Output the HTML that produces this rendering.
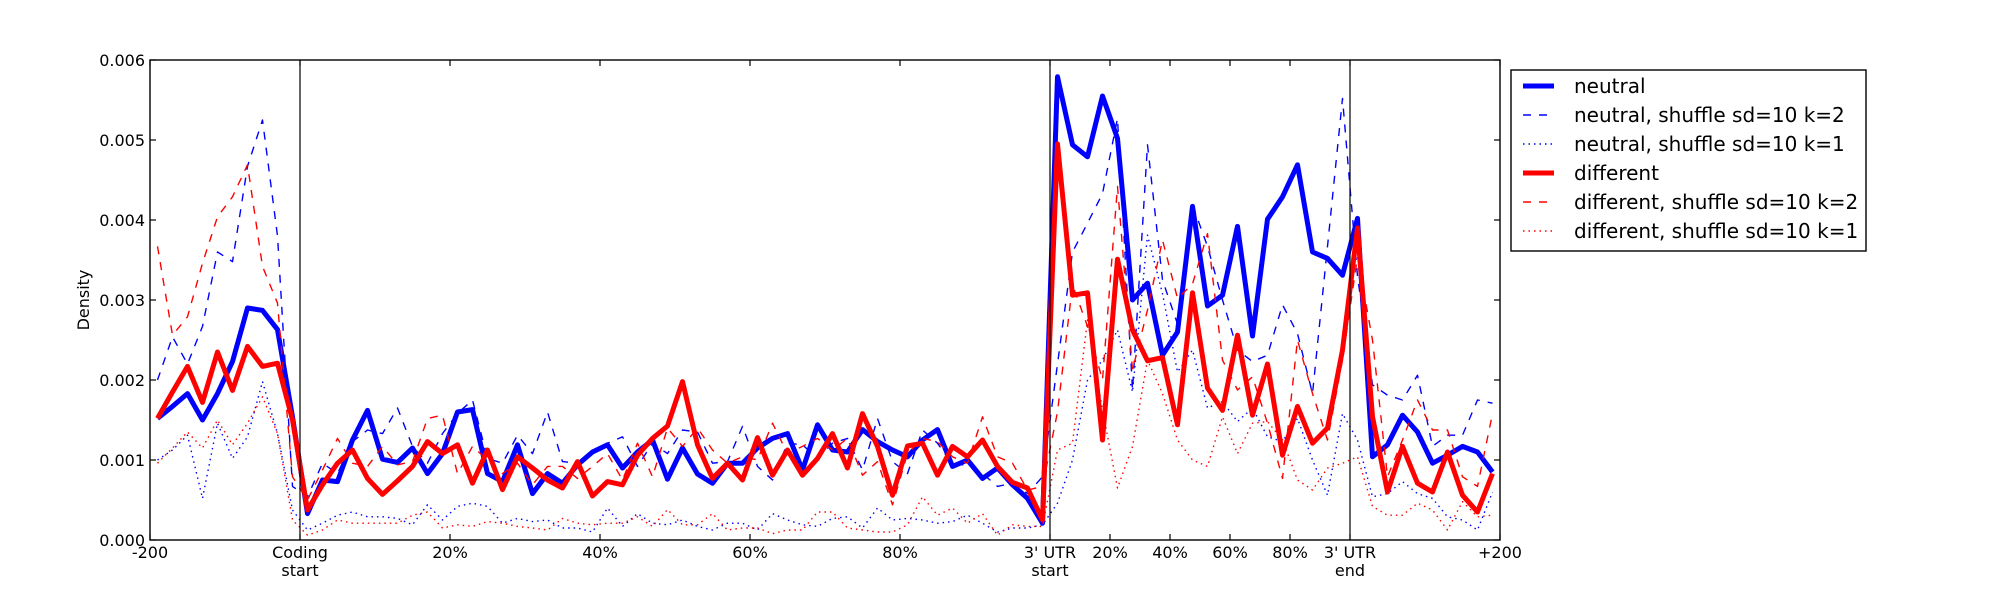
<!DOCTYPE html>
<html><head><meta charset="utf-8"><style>
html,body{margin:0;padding:0;background:#fff;}
svg{display:block;font-family:"DejaVu Sans","Liberation Sans",sans-serif;}
</style></head><body>
<svg id="s" width="2000" height="600" viewBox="0 0 2000 600" xmlns="http://www.w3.org/2000/svg">
<rect x="0" y="0" width="2000" height="600" fill="#fff"/>
<defs><clipPath id="c"><rect x="150" y="60" width="1350" height="480"/></clipPath></defs>
<g id="lines" clip-path="url(#c)"></g>
<line x1="300" y1="60" x2="300" y2="540" stroke="#000" stroke-width="1.2"/>
<line x1="1050" y1="60" x2="1050" y2="540" stroke="#000" stroke-width="1.2"/>
<line x1="1350" y1="60" x2="1350" y2="540" stroke="#000" stroke-width="1.2"/>
<g id="ticks" stroke="#000" stroke-width="1.2"></g>
<rect x="150" y="60" width="1350" height="480" fill="none" stroke="#000" stroke-width="1.4"/>
<g font-size="16" fill="#000" text-anchor="end">
<text x="145" y="66">0.006</text>
<text x="145" y="146">0.005</text>
<text x="145" y="226">0.004</text>
<text x="145" y="306">0.003</text>
<text x="145" y="386">0.002</text>
<text x="145" y="466">0.001</text>
<text x="145" y="546">0.000</text>
</g>
<text x="89" y="300" font-size="16" text-anchor="middle" transform="rotate(-90 89 300)">Density</text>
<g font-size="16" fill="#000" text-anchor="middle">
<text x="150" y="558">-200</text>
<text x="300" y="558">Coding</text><text x="300" y="576">start</text>
<text x="450" y="558">20%</text>
<text x="600" y="558">40%</text>
<text x="750" y="558">60%</text>
<text x="900" y="558">80%</text>
<text x="1050" y="558">3' UTR</text><text x="1050" y="576">start</text>
<text x="1110" y="558">20%</text>
<text x="1170" y="558">40%</text>
<text x="1230" y="558">60%</text>
<text x="1290" y="558">80%</text>
<text x="1350" y="558">3' UTR</text><text x="1350" y="576">end</text>
<text x="1500" y="558">+200</text>
</g>
<rect x="1511" y="70" width="355" height="181" fill="#fff" stroke="#000" stroke-width="1.4"/>
<g stroke-width="1.4" fill="none">
<line x1="1523" y1="86" x2="1554" y2="86" stroke="#0000ff" stroke-width="5"/>
<line x1="1523" y1="115" x2="1554" y2="115" stroke="#0000ff" stroke-dasharray="8,8"/>
<line x1="1523" y1="144" x2="1554" y2="144" stroke="#0000ff" stroke-dasharray="1.5,4"/>
<line x1="1523" y1="173" x2="1554" y2="173" stroke="#ff0000" stroke-width="5"/>
<line x1="1523" y1="202" x2="1554" y2="202" stroke="#ff0000" stroke-dasharray="8,8"/>
<line x1="1523" y1="231" x2="1554" y2="231" stroke="#ff0000" stroke-dasharray="1.5,4"/>
</g>
<g font-size="20" fill="#000">
<text x="1574" y="93">neutral</text>
<text x="1574" y="122">neutral, shuffle sd=10 k=2</text>
<text x="1574" y="151">neutral, shuffle sd=10 k=1</text>
<text x="1574" y="180">different</text>
<text x="1574" y="209">different, shuffle sd=10 k=2</text>
<text x="1574" y="238">different, shuffle sd=10 k=1</text>
</g>
</svg>
<script>
var N=[15.2,16.7,18.3,15,18.3,22.3,29,28.7,26.3,15.4,3.3,7.5,7.3,12.5,16.2,10.1,9.7,11.5,8.3,10.8,
16,16.3,8.3,7.3,11.9,5.8,8.3,7.1,9.4,11,11.9,9,11,12.5,7.6,11.5,8.25,7.1,9.6,9.6,
11.5,12.7,13.3,8.75,14.4,11.25,11,13.8,12.3,11.25,10.4,12.5,13.8,9.2,10,7.7,9,6.9,5.2,2.1,
57.9,49.4,47.9,55.5,50.2,30,32.1,23.1,26,41.7,29.25,30.6,39.2,25.5,40.1,42.9,46.9,36,35.2,33.1,
40.2,10.4,11.9,15.6,13.5,9.6,10.6,11.7,11,8.5];
var D=[15.2,18.5,21.7,17.2,23.5,18.7,24.2,21.7,22.1,15,3.75,6.9,9.6,11.25,7.7,5.7,7.4,9.2,12.3,10.8,
11.9,7.1,11.25,6.3,10.4,9,7.5,6.5,9.8,5.5,7.3,6.9,10.6,12.7,14.25,19.8,11.9,7.7,9.6,7.5,
12.8,8.1,11.25,8.1,10.2,13.3,9,15.8,11.7,5.6,11.75,12.1,8.1,11.7,10.4,12.5,9.2,7.2,6.5,2.5,
49.5,30.6,30.9,12.5,35.1,26.25,22.4,22.8,14.4,30.9,19,16.2,25.6,15.6,22,10.6,16.7,12.1,14,23.75,
39,15.4,6,11.7,7.1,6,11,5.6,3.5,8.3];
var N2=[20,25.4,22,26.7,36,34.8,46.7,52.5,38,6.7,5.4,9.6,8.3,12.3,13.75,13.3,16.5,11.7,9.6,13.3,
15.8,17.5,10.2,9.6,13.1,10.8,16,9.8,9.6,10.8,12.1,12.9,9.2,12.1,10.8,13.75,13.5,9.6,9.8,14.2,
9.2,7.5,12.1,11.9,10.2,12.1,12.7,8.75,15.2,9.8,8.3,13.75,12.1,9.4,9.4,8.3,6.7,7.1,5.8,7.9,
22,36,39.6,43.3,52.7,18.75,49.4,32.5,27,41.9,36.7,30,23.75,22.3,23.1,29.4,25.8,18.3,36.7,55.2,
33,19.4,18.1,17.5,20.6,11.7,13.1,13.1,17.5,17.1];
var D2=[36.7,25.6,27.9,34.6,40.4,42.9,46.9,34.2,29.6,7.9,5,8.75,12.7,9.6,9.2,11.7,9.4,9.8,15.2,15.6,
8.3,11.7,10,8.3,9.6,6.9,9.2,9.2,7.7,9.2,10.8,7.5,12.1,7.9,14,11.7,14,11.25,9.6,10.4,
10,14.6,10.8,11.7,12.7,11.25,12.7,8.1,9.8,4.4,10.8,12.7,12.3,10.4,9.6,15.4,10.4,9.6,6.25,6.7,
16,31.9,26.7,20,44.2,21.25,28.75,37.5,30.2,32,38.3,22.5,18.75,20.4,14.6,7.7,25,18.3,12.5,22.5,
35.4,25,7.9,12.5,17.5,13.75,13.75,7.9,6.7,15.8];
var N1=[10,11.25,13.1,5.2,14.6,10.2,12.9,19.8,13.3,3.75,1.25,2.1,3.1,3.5,2.9,2.9,2.7,1.9,4.4,2.5,
4.2,4.6,4.2,2.1,2.7,2.3,2.5,1.5,1.5,1,4,1.7,3.3,2.1,1.9,2.5,1.7,1.25,2.1,2.1,
1.25,3.3,2.5,1.9,1.7,2.7,2.9,1.5,4,2.5,2.7,2.5,2.1,2.3,3.1,2.1,1,1.5,1.5,1.9,
4.6,10,20,22.5,26.25,18.5,38.1,30.8,21,23.75,16.5,17.3,14.8,16.5,12.9,12.3,15.2,10,5.6,15.8,
12.5,5.4,5.8,7.3,5.8,5.2,2.9,2.5,1.25,6];
var D1=[9.6,11.5,13.5,11.5,15,11.9,14.6,17.9,13.3,2.5,0.6,1.25,2.5,2.1,2.1,2.1,2.1,3.1,3.5,1.5,
1.9,1.7,2.3,2.1,1.7,1.5,1.25,2.7,2.1,1.9,2.1,2.1,2.9,1.7,3.8,1.9,1.9,3.3,1.25,1.5,
1.5,0.8,1.25,1.25,3.5,3.5,1.5,1.25,1,1,1.9,5.4,3.1,4,2.1,3.3,0.6,1.9,1.7,1.7,
11.25,12.1,27.5,16.25,6.5,11.7,22.5,18.3,12.5,10,9.2,15.4,10.8,14.6,14.8,12.5,7.5,6.25,9,9.6,
10.4,4.2,3.1,3.1,4.6,3.75,1.25,4.8,2.9,3.1];
var ns="http://www.w3.org/2000/svg";
var g=document.getElementById("lines");
function add(arr,col,w,dash){
  var pts=arr.map(function(v,i){return (157.5+15*i).toFixed(1)+","+(540-8*v).toFixed(1);}).join(" ");
  var p=document.createElementNS(ns,"polyline");
  p.setAttribute("points",pts);p.setAttribute("fill","none");p.setAttribute("stroke",col);
  p.setAttribute("stroke-width",w);p.setAttribute("stroke-linejoin","round");
  if(dash)p.setAttribute("stroke-dasharray",dash);
  g.appendChild(p);
}
add(N,"#0000ff",5);add(N2,"#0000ff",1.4,"8,8");add(N1,"#0000ff",1.4,"1.5,4");
add(D,"#ff0000",5);add(D2,"#ff0000",1.4,"8,8");add(D1,"#ff0000",1.4,"1.5,4");
var t=document.getElementById("ticks");
function ln(x1,y1,x2,y2){var l=document.createElementNS(ns,"line");l.setAttribute("x1",x1);l.setAttribute("y1",y1);l.setAttribute("x2",x2);l.setAttribute("y2",y2);t.appendChild(l);}
[150,300,450,600,750,900,1050,1110,1170,1230,1290,1350,1500].forEach(function(x){ln(x,540,x,534);ln(x,60,x,66);});
for(var k=0;k<=6;k++){var y=540-80*k;ln(150,y,156,y);ln(1500,y,1494,y);}
</script>
</body></html>
